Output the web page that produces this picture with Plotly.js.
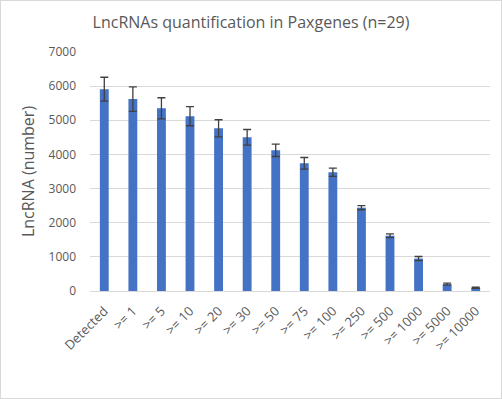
<!DOCTYPE html>
<html>
<head>
<meta charset="utf-8">
<script src="https://cdn.plot.ly/plotly-3.0.1.min.js"></script>
<style>
html,body{margin:0;padding:0;background:#fff;}
#wrap{width:502px;height:399px;box-sizing:border-box;border:1px solid #d9d9d9;overflow:hidden;}
#chart{width:500px;height:397px;}
</style>
</head>
<body>
<div id="wrap"><div id="chart"></div></div>
<script>
const categories = ["Detected", ">= 1", ">= 5", ">= 10", ">= 20", ">= 30", ">= 50", ">= 75", ">= 100", ">= 250", ">= 500", ">= 1000", ">= 5000", ">= 10000"];
const values = [5910, 5620, 5350, 5120, 4765, 4500, 4120, 3740, 3480, 2440, 1620, 950, 200, 95];
const errors = [350, 360, 310, 280, 250, 230, 180, 170, 120, 60, 55, 60, 30, 20];
const yTicks = [0, 1000, 2000, 3000, 4000, 5000, 6000, 7000];

const font = "'Open Sans', sans-serif";
const grey = "#595959";

const trace = {
  type: "bar",
  x: categories,
  y: values,
  marker: {color: "#4472C4"},
  error_y: {type: "data", array: errors, visible: true, color: "#404040", thickness: 1.3, width: 4}
};

const layout = {
  width: 500, height: 397,
  margin: {l: 89, r: 11, t: 51, b: 107},
  paper_bgcolor: "#fff", plot_bgcolor: "#fff",
  bargap: 0.69,
  showlegend: false,
  font: {family: font, color: grey, size: 12},
  title: {text: "LncRNAs quantification in Paxgenes (n=29)", font: {family: font, size: 16, color: grey},
          x: 0.5, xanchor: "center", xref: "container", y: 1 - 21/397, yanchor: "middle", yref: "container"},
  xaxis: {
    type: "category", tickangle: -45, showgrid: false, showline: false, zeroline: false,
    ticks: "", ticklabelstandoff: 9, tickfont: {family: font, size: 13, color: grey}, automargin: false
  },
  yaxis: {
    range: [0, 7000], tickvals: yTicks, ticktext: yTicks.map(String),
    showgrid: true, gridcolor: "#d9d9d9", gridwidth: 1, zeroline: true, zerolinecolor: "#d9d9d9", zerolinewidth: 1,
    showline: false, ticks: "", ticklabelstandoff: 13,
    tickfont: {family: font, size: 12, color: grey}, automargin: false,
    title: {text: "LncRNA (number)", font: {family: font, size: 16, color: grey}, standoff: 9}
  }
};

Plotly.newPlot("chart", [trace], layout, {displayModeBar: false, staticPlot: true});
</script>
</body>
</html>
